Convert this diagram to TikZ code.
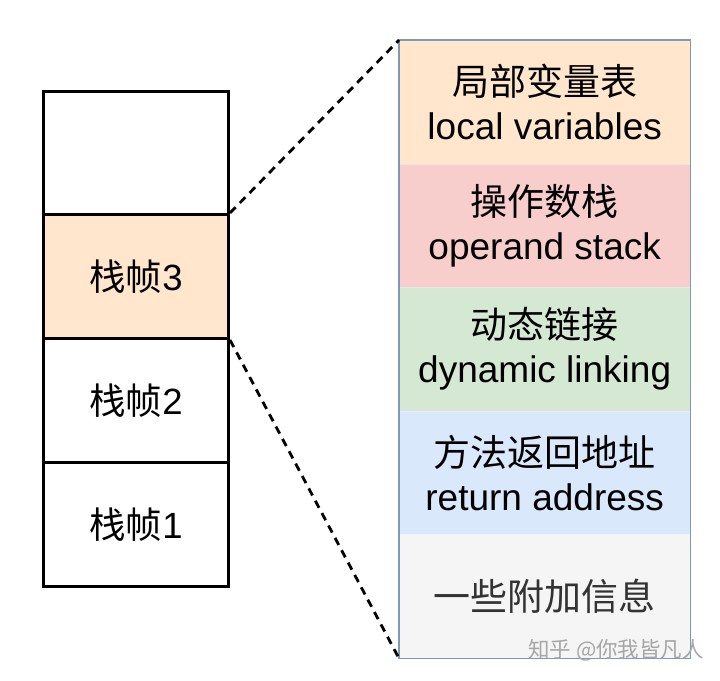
\documentclass[tikz,border=0pt]{standalone}
\usepackage{fontspec}
\setmainfont{Liberation Sans}
\newfontfamily\cjk{Noto Sans CJK SC}
\definecolor{cOrange}{HTML}{FFE6CC}
\definecolor{cRed}{HTML}{F8CECC}
\definecolor{cGreen}{HTML}{D5E8D4}
\definecolor{cBlue}{HTML}{DAE8FC}
\definecolor{cGray}{HTML}{F5F5F5}
\definecolor{cBorder}{HTML}{7F97B8}
\begin{document}
\begin{tikzpicture}[x=1pt,y=-1pt,
  frame/.style={draw=black,line width=3pt,minimum width=185pt,minimum height=124pt,inner sep=0pt,font=\fontsize{36.5}{42}\selectfont,anchor=north west},
  cell/.style={minimum width=291pt,minimum height=123.6pt,inner sep=0pt,anchor=north west,align=center,font=\fontsize{37}{44}\selectfont},
  zoomline/.style={draw=black,line width=2.8pt,dash pattern=on 8pt off 6pt}]
\useasboundingbox (0,0) rectangle (720,680);
% left stack
\node[frame] (top) at (42,90) {};
\node[frame,fill=cOrange] (f3) at (42,213) {{\cjk 栈帧}3};
\node[frame] (f2) at (42,337) {{\cjk 栈帧}2};
\node[frame] (f1) at (42,461) {{\cjk 栈帧}1};
% right column
\node[cell,fill=cOrange,draw=cOrange!80!black!40] (lv) at (399,40) {{\cjk 局部变量表}\\local variables};
\node[cell,fill=cRed,draw=cRed!80!black!30] (os) at (399,163.6) {{\cjk 操作数栈}\\operand stack};
\node[cell,fill=cGreen,draw=cGreen!80!black!30] (dl) at (399,287.2) {{\cjk 动态链接}\\dynamic linking};
\node[cell,fill=cBlue,draw=cBlue!80!black!30] (ra) at (399,410.8) {{\cjk 方法返回地址}\\return address};
\node[cell,fill=cGray,draw=cGray!80!black!20,text=black!80] (ex) at (399,534.4) {\cjk 一些附加信息};
\draw[cBorder,line width=1.2pt] (lv.north west) rectangle (ex.south east);
% zoom lines
\draw[zoomline] (f3.north east) -- (lv.north west);
\draw[zoomline] (f3.south east) -- (ex.south west);
% watermark
\node[text=black!35,font=\cjk\fontsize{21.5}{24}\selectfont,anchor=west,inner sep=0pt] (wm) at (528,650) {知乎 @你我皆凡人};
\end{tikzpicture}
\end{document}
